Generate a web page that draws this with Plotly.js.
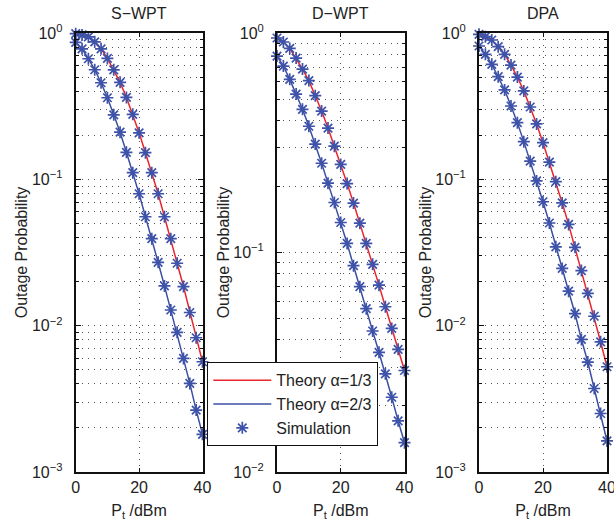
<!DOCTYPE html>
<html>
<head>
<meta charset="utf-8">
<script src="https://cdn.plot.ly/plotly-3.0.1.min.js"></script>
<style>html,body{margin:0;padding:0;background:#fff;}#chart{width:614px;height:521px;}</style>
</head>
<body>
<div id="chart"></div>
<script>
// ---- data ----
const ptDbm = [0,2,4,6,8,10,12,14,16,18,20,22,24,26,28,30,32,34,36,38,40];

const swptA13 = [0.99,0.97,0.94,0.87,0.78,0.67,0.56,0.46,0.363,0.278,0.208,0.152,0.111,0.0797,0.0555,0.0393,0.0267,0.0185,0.0123,0.00827,0.00567];
const swptA23 = [0.863,0.78,0.667,0.561,0.457,0.361,0.276,0.21,0.153,0.111,0.0797,0.0555,0.0393,0.0271,0.0187,0.0128,0.009,0.00597,0.00403,0.00265,0.00181];

const dwptA13 = [0.949,0.91,0.851,0.769,0.685,0.607,0.518,0.441,0.369,0.305,0.252,0.206,0.168,0.136,0.110,0.0883,0.071,0.0566,0.0451,0.0362,0.029];
const dwptA23 = [0.785,0.707,0.615,0.527,0.449,0.376,0.312,0.255,0.207,0.169,0.137,0.110,0.0871,0.0699,0.0555,0.0439,0.0351,0.028,0.0219,0.0171,0.0136];

const dpaA13 = [0.98,0.944,0.896,0.806,0.715,0.604,0.5,0.402,0.312,0.239,0.178,0.131,0.0964,0.069,0.0492,0.0343,0.0238,0.0166,0.0116,0.00776,0.00524];
const dpaA23 = [0.815,0.715,0.611,0.503,0.408,0.317,0.244,0.181,0.133,0.0975,0.0703,0.0503,0.0346,0.0246,0.0172,0.0121,0.00805,0.00564,0.00372,0.00251,0.00163];

const panelTitles = ['S\u2212WPT','D\u2212WPT','DPA'];
const legendNames = ['Theory \u03b1=1/3','Theory \u03b1=2/3','Simulation'];
const xTickVals = [0,20,40];
const yMajor3 = [0.001,0.01,0.1,1];
const yMajorText3 = ['10<sup>\u22123</sup>','10<sup>\u22122</sup>','10<sup>\u22121</sup>','10<sup>0</sup>'];
const yMajor2 = [0.01,0.1,1];
const yMajorText2 = ['10<sup>\u22122</sup>','10<sup>\u22121</sup>','10<sup>0</sup>'];
const yMinor3 = [0.002,0.003,0.004,0.005,0.006,0.007,0.008,0.009,0.02,0.03,0.04,0.05,0.06,0.07,0.08,0.09,0.2,0.3,0.4,0.5,0.6,0.7,0.8,0.9];
const yMinor2 = [0.02,0.03,0.04,0.05,0.06,0.07,0.08,0.09,0.2,0.3,0.4,0.5,0.6,0.7,0.8,0.9];

// ---- styling ----
const RED = '#e8262d';
const BLUE = '#3b4fa3';
const MK = '#3d52a8';
const FONT = 'Liberation Sans, Arial, sans-serif';
const DOTS = '1px,5px';

const panels = [
  {a13: swptA13, a23: swptA23, yr: [-3,0], maj: yMajor3, majT: yMajorText3, min: yMinor3, dom: [75.7,202.5]},
  {a13: dwptA13, a23: dwptA23, yr: [-2,0], maj: yMajor2, majT: yMajorText2, min: yMinor2, dom: [277,404.5]},
  {a13: dpaA13,  a23: dpaA23,  yr: [-3,0], maj: yMajor3, majT: yMajorText3, min: yMinor3, dom: [479,607]}
];

const W = 614, H = 521;
const yDom = [1 - 472/H, 1 - 33/H];

const traces = [];
const layout = {
  width: W, height: H,
  margin: {l:0, r:0, t:0, b:0},
  paper_bgcolor: '#fff', plot_bgcolor: '#fff',
  font: {family: FONT, size: 15, color: '#222'},
  showlegend: true,
  legend: {
    x: 207/W, y: 1 - 362/H, xanchor: 'left', yanchor: 'top',
    bgcolor: '#fff', bordercolor: '#111', borderwidth: 1.3,
    font: {family: FONT, size: 16, color: '#222'},
    tracegroupgap: 0, itemwidth: 58
  },
  annotations: []
};

panels.forEach((p, i) => {
  const sfx = i === 0 ? '' : String(i + 1);
  const xa = 'x' + sfx, ya = 'y' + sfx;
  traces.push({x: ptDbm, y: p.a13, xaxis: xa, yaxis: ya, type: 'scatter', mode: 'lines',
    line: {color: RED, width: 1.5}, name: legendNames[0], legendgroup: 'g1', showlegend: i === 0});
  traces.push({x: ptDbm, y: p.a23, xaxis: xa, yaxis: ya, type: 'scatter', mode: 'lines',
    line: {color: BLUE, width: 1.5}, name: legendNames[1], legendgroup: 'g2', showlegend: i === 0});
  traces.push({x: ptDbm, y: p.a13, xaxis: xa, yaxis: ya, type: 'scatter', mode: 'markers', cliponaxis: false,
    marker: {symbol: 'asterisk-open', size: 10, color: MK, line: {color: MK, width: 1.7}},
    name: legendNames[2], legendgroup: 'g3', showlegend: i === 0});
  traces.push({x: ptDbm, y: p.a23, xaxis: xa, yaxis: ya, type: 'scatter', mode: 'markers', cliponaxis: false,
    marker: {symbol: 'asterisk-open', size: 10, color: MK, line: {color: MK, width: 1.7}},
    name: legendNames[2], legendgroup: 'g3', showlegend: false});

  layout['xaxis' + sfx] = {
    domain: [p.dom[0]/W, p.dom[1]/W], anchor: ya, range: [0, 40],
    tickmode: 'array', tickvals: xTickVals, ticks: 'inside', ticklen: 4, tickcolor: '#111',
    showline: true, linecolor: '#111', linewidth: 2, mirror: 'allticks',
    showgrid: true, gridcolor: '#555', griddash: DOTS, gridwidth: 1,
    zeroline: false, tickfont: {size: 16, color: '#222'}, ticklabeloverflow: 'allow',
    title: {text: 'P<sub>t</sub> /dBm', font: {size: 16, color: '#222'}, standoff: 12}
  };
  layout['yaxis' + sfx] = {
    domain: yDom, anchor: xa, type: 'log', range: p.yr,
    tickmode: 'array', tickvals: p.maj, ticktext: p.majT, ticks: 'inside', ticklen: 5, tickcolor: '#111',
    showline: true, linecolor: '#111', linewidth: 2, mirror: 'allticks',
    showgrid: true, gridcolor: '#555', griddash: DOTS, gridwidth: 1,
    minor: {tickmode: 'array', tickvals: p.min, ticks: 'inside', ticklen: 3, tickcolor: '#111',
            showgrid: true, gridcolor: '#555', griddash: DOTS, gridwidth: 1},
    zeroline: false, tickfont: {size: 16, color: '#222'}, ticklabelstandoff: 8,
    title: {text: 'Outage Probability', font: {size: 16, color: '#222'}, standoff: 0}
  };
  layout.annotations.push({
    text: panelTitles[i], xref: 'paper', yref: 'paper',
    x: (p.dom[0] + p.dom[1]) / 2 / W, y: 1 - 14/H, xanchor: 'center', yanchor: 'middle',
    showarrow: false, font: {family: FONT, size: 16, color: '#222'}
  });
});

Plotly.newPlot('chart', traces, layout, {displayModeBar: false, staticPlot: true});
</script>
</body>
</html>
